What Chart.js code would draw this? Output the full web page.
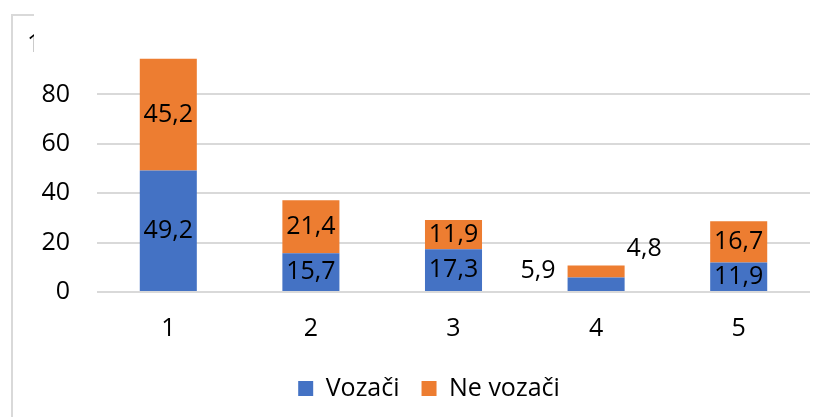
<!DOCTYPE html>
<html>
<head>
<meta charset="utf-8">
<script src="https://cdn.jsdelivr.net/npm/chart.js@4"></script>
<style>
  body { margin: 0; background: #fff; }
  #wrap { position: relative; width: 825px; height: 417px; }
  #frame { position: absolute; left: 11px; top: 14px; width: 830px; height: 420px;
           border-left: 2px solid #d9d9d9; border-top: 2px solid #d9d9d9; }
  #cover { position: absolute; left: 34px; top: 12px; width: 791px; height: 42px; background: #fff; }
  canvas { position: absolute; left: 0; top: 0; }
</style>
</head>
<body>
<div id="wrap">
  <div id="frame"></div>
  <canvas id="chart" width="825" height="417"></canvas>
  <div id="cover"></div>
</div>
<script>
const categories = ["1", "2", "3", "4", "5"];
const vozaci = [49.2, 15.7, 17.3, 5.9, 11.9];
const neVozaci = [45.2, 21.4, 11.9, 4.8, 16.7];
const yTicks = [0, 20, 40, 60, 80, 100];

const FONT = "'Open Sans', 'Liberation Sans', sans-serif";
const SIZE = 25;

// value labels, category 4 has its labels outside the bar
const valueLabels = {
  id: "valueLabels",
  afterLayout(chart) {
    // legend sits a bit right of the canvas centre
    chart.legend.left += 24;
    chart.legend.right += 24;
  },
  afterDatasetsDraw(chart) {
    const ctx = chart.ctx;
    ctx.save();
    ctx.font = SIZE + "px " + FONT;
    ctx.fillStyle = "#000";
    ctx.textBaseline = "middle";
    chart.data.datasets.forEach((ds, di) => {
      chart.getDatasetMeta(di).data.forEach((bar, i) => {
        const text = ds.data[i].toFixed(1).replace(".", ",");
        if (i === 3) {
          if (di === 0) {
            ctx.textAlign = "right";
            ctx.fillText(text, bar.x - bar.width / 2 - 12, bar.y - 7);
          } else {
            ctx.textAlign = "left";
            ctx.fillText(text, bar.x + bar.width / 2 + 2, bar.y - 17);
          }
        } else {
          ctx.textAlign = "center";
          ctx.fillText(text, bar.x, (bar.y + bar.base) / 2);
        }
      });
    });
    ctx.restore();
  }
};

new Chart(document.getElementById("chart"), {
  type: "bar",
  data: {
    labels: categories,
    datasets: [
      { label: "Vozači", data: vozaci, backgroundColor: "#4472C4" },
      { label: "Ne vozači", data: neVozaci, backgroundColor: "#ED7D31" }
    ]
  },
  options: {
    responsive: false,
    animation: false,
    layout: { padding: { top: 45, right: 15, left: 0, bottom: 6 } },
    datasets: { bar: { barPercentage: 0.4, categoryPercentage: 1 } },
    plugins: {
      legend: {
        position: "bottom",
        labels: {
          boxWidth: 15,
          boxHeight: 15,
          padding: 22,
          color: "#000",
          font: { family: FONT, size: SIZE }
        }
      },
      tooltip: { enabled: false }
    },
    scales: {
      x: {
        stacked: true,
        grid: { display: false },
        border: { display: false },
        ticks: { color: "#000", padding: 14, font: { family: FONT, size: SIZE } },
        afterFit(scale) { scale.height = 62; }
      },
      y: {
        stacked: true,
        min: 0,
        max: 100,
        afterBuildTicks(scale) { scale.ticks = yTicks.map(v => ({ value: v })); },
        grid: { color: "#d9d9d9", lineWidth: 2, drawTicks: false },
        border: { display: false },
        ticks: { color: "#000", padding: 27, font: { family: FONT, size: SIZE } },
        afterFit(scale) { scale.width = 97; }
      }
    }
  },
  plugins: [valueLabels]
});
</script>
</body>
</html>
